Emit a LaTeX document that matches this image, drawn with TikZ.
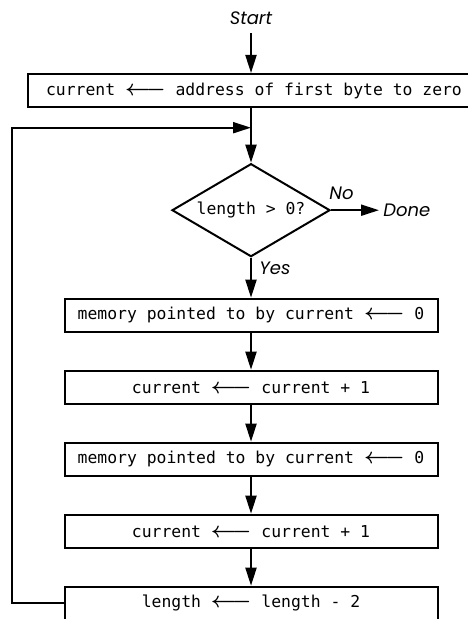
\documentclass[tikz,border=0pt]{standalone}
\usepackage{fontspec}
\setmonofont{DejaVu Sans Mono}
\newfontfamily\tagfont{Poppins}
\usepackage{amsmath}
\usepackage{amssymb}
\usepackage{tikz}
\usetikzlibrary{shapes.geometric, arrows.meta, positioning}

\newcommand{\getsfrom}{\mbox{\fontsize{10.5}{10}\selectfont$\boldsymbol{\longleftarrow}$}}

\begin{document}
\begin{tikzpicture}[
    block/.style={rectangle, draw=black, line width=1pt, minimum width=186.5pt,
                  minimum height=16.5pt, inner sep=1pt, align=center,
                  font=\ttfamily\fontsize{8.2}{10}\selectfont},
    decision/.style={diamond, aspect=1.684, draw=black, line width=1pt,
                     minimum width=79pt, minimum height=46.5pt, inner sep=0.5pt,
                     font=\ttfamily\fontsize{8.2}{10}\selectfont},
    arrow/.style={-{Triangle[length=9pt, width=5.5pt]}, line width=1pt},
    tag/.style={font=\tagfont\itshape\fontsize{9}{10}\selectfont, inner sep=2pt}
]
    \useasboundingbox (0,0) rectangle (233.5pt,-309.5pt);

    \node[tag, inner sep=4pt, anchor=base] (start) at (125.5pt,-12.3pt) {Start};
    \node[block, minimum width=226pt] (init) at (127pt,-45.25pt)
        {current \getsfrom{} address of first byte to zero};
    \node[decision, below=27.35pt of init.south -| start, anchor=north] (test) {length > 0?};
    \node[tag, right=24pt of test] (done) {Done};
    \node[tag, above right=3pt and -3pt of test.east] (no) {No};
    \node[tag, below right=0pt and 2pt of test.south] (yes) {Yes};

    \node[block, below=20pt of test] (clearA) {memory pointed to by current \getsfrom{} 0};
    \node[block, below=18.5pt of clearA] (incA) {current \getsfrom{} current + 1};
    \node[block, below=18.5pt of incA] (clearB) {memory pointed to by current \getsfrom{} 0};
    \node[block, below=18.5pt of clearB] (incB) {current \getsfrom{} current + 1};
    \node[block, below=18.5pt of incB] (dec) {length \getsfrom{} length - 2};

    \coordinate (merge) at ([yshift=-9.85pt]init.south -| start);

    \draw[arrow] (start) -- (start |- init.north);
    \draw[arrow] (init.south -| test) -- (test);
    \draw[arrow] (test) -- (done);
    \draw[arrow] (test) -- (clearA);
    \draw[arrow] (clearA) -- (incA);
    \draw[arrow] (incA) -- (clearB);
    \draw[arrow] (clearB) -- (incB);
    \draw[arrow] (incB) -- (dec);
    \draw[arrow] (dec.west) -- ++(-25.8pt,0) |- (merge);
\end{tikzpicture}
\end{document}
